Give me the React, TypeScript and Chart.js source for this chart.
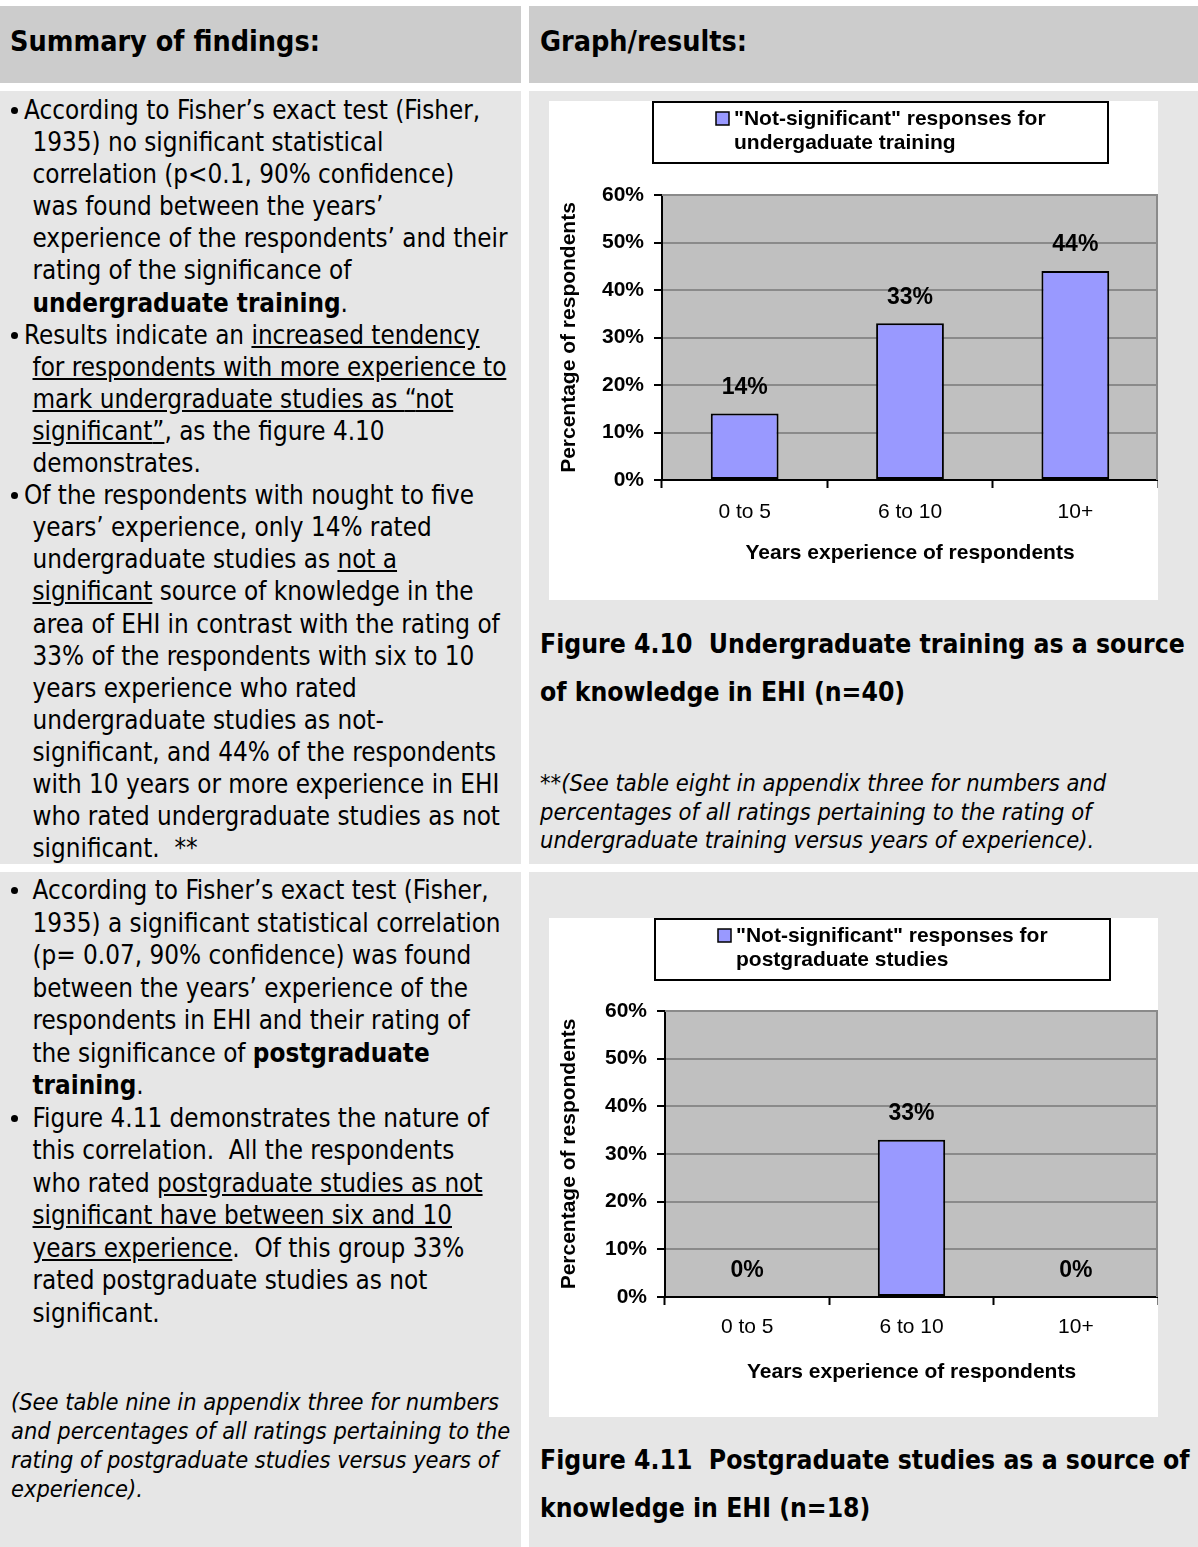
import React, { useEffect, useRef } from 'react';
import { Chart, registerables } from 'chart.js';

Chart.register(...registerables);

// ---------------- data ----------------
const CATEGORIES = ['0 to 5', '6 to 10', '10+'];
const UNDERGRAD_VALUES = [14, 33, 44];
const POSTGRAD_VALUES = [0, 33, 0];
const Y_TICKS = [0, 10, 20, 30, 40, 50, 60];
const UNDERGRAD_LEGEND = ['"Not-significant" responses for', 'undergaduate training'];
const POSTGRAD_LEGEND = ['"Not-significant" responses for', 'postgraduate studies'];
const X_TITLE = 'Years experience of respondents';
const Y_TITLE = 'Percentage of respondents';

const CHART_FONT = '"Liberation Sans", Arial, sans-serif';
const DOC_FONT = '"DejaVu Sans Condensed", "DejaVu Sans", sans-serif';

type PanelProps = {
  values: number[];
  legendLines: string[];
  plotLeft: number;
  plotTop: number;
  xTitlePad: number;
  xTickPad: number;
  legendX: number;
};

const CW = 609;
const CH = 499;

function BarPanel({ values, legendLines, plotLeft, plotTop, xTitlePad, xTickPad, legendX }: PanelProps) {
  const ref = useRef<HTMLCanvasElement | null>(null);
  useEffect(() => {
    const canvas = ref.current;
    if (!canvas) return;

    const plotBg = {
      id: 'plotBg',
      beforeDraw(chart: any) {
        const { ctx, chartArea: a } = chart;
        ctx.save();
        ctx.fillStyle = '#c0c0c0';
        ctx.fillRect(a.left, a.top, a.right - a.left, a.bottom - a.top);
        ctx.restore();
      },
      beforeDatasetsDraw(chart: any) {
        const { ctx, chartArea: a } = chart;
        ctx.save();
        ctx.strokeStyle = '#8a8a8a';
        ctx.lineWidth = 2;
        ctx.beginPath();
        ctx.moveTo(a.left, a.top);
        ctx.lineTo(a.right - 1, a.top);
        ctx.lineTo(a.right - 1, a.bottom);
        ctx.stroke();
        ctx.restore();
      },
    };

    const dataLabels = {
      id: 'dataLabels',
      afterDatasetsDraw(chart: any) {
        const { ctx } = chart;
        const meta = chart.getDatasetMeta(0);
        const ds = chart.data.datasets[0];
        ctx.save();
        ctx.fillStyle = '#000';
        ctx.font = `bold 23px ${CHART_FONT}`;
        ctx.textAlign = 'center';
        ctx.textBaseline = 'middle';
        meta.data.forEach((bar: any, i: number) => {
          ctx.fillText(`${ds.data[i]}%`, bar.x, bar.y - 26);
        });
        ctx.restore();
      },
    };

    const legendBox = {
      id: 'legendBox',
      afterDraw(chart: any) {
        const { ctx } = chart;
        const bx = legendX;
        const by = 1;
        const bw = 455;
        const bh = 61;
        ctx.save();
        ctx.fillStyle = '#ffffff';
        ctx.fillRect(bx, by, bw, bh);
        ctx.strokeStyle = '#000';
        ctx.lineWidth = 2;
        ctx.strokeRect(bx, by, bw, bh);
        // swatch
        ctx.fillStyle = '#9999ff';
        ctx.fillRect(bx + 63, by + 10, 13, 13);
        ctx.lineWidth = 1.5;
        ctx.strokeRect(bx + 63, by + 10, 13, 13);
        ctx.fillStyle = '#000';
        ctx.font = `bold 21px ${CHART_FONT}`;
        ctx.textAlign = 'left';
        ctx.textBaseline = 'middle';
        legendLines.forEach((line, i) => {
          ctx.fillText(line, bx + 81, by + 17 + i * 24);
        });
        ctx.restore();
      },
    };

    const chart = new Chart(canvas, {
      type: 'bar',
      data: {
        labels: CATEGORIES,
        datasets: [
          {
            label: legendLines.join(' '),
            data: values,
            backgroundColor: '#9999ff',
            borderColor: '#000000',
            borderWidth: 2,
            borderSkipped: false,
            barPercentage: 0.41,
            categoryPercentage: 1,
          },
        ],
      },
      options: {
        responsive: false,
        maintainAspectRatio: false,
        animation: false,
        layout: { padding: { top: plotTop, right: 0, bottom: 0, left: 0 } },
        plugins: {
          legend: { display: false },
          tooltip: { enabled: false },
        },
        scales: {
          x: {
            grid: {
              display: true,
              drawOnChartArea: false,
              drawTicks: true,
              tickLength: 8,
              tickColor: '#000',
              tickWidth: 2,
              offset: true,
            },
            border: { display: true, color: '#000', width: 2 },
            ticks: {
              color: '#000',
              font: { family: CHART_FONT, size: 21 },
              padding: xTickPad,
            },
            title: {
              display: true,
              text: X_TITLE,
              color: '#000',
              font: { family: CHART_FONT, size: 21, weight: 'bold' },
              padding: { top: 0, bottom: xTitlePad },
            },
            afterFit: (s: any) => {
              s.height = CH - 379;
            },
          },
          y: {
            min: 0,
            max: 60,
            afterBuildTicks: (s: any) => {
              s.ticks = Y_TICKS.map((v) => ({ value: v }));
            },
            grid: {
              color: '#8a8a8a',
              lineWidth: 2,
              tickColor: '#000',
              tickLength: 8,
              tickWidth: 2,
            },
            border: { display: true, color: '#000', width: 2 },
            ticks: {
              color: '#000',
              font: { family: CHART_FONT, size: 21, weight: 'bold' },
              padding: 10,
              callback: (v: any) => `${v}%`,
            },
            title: {
              display: true,
              text: Y_TITLE,
              color: '#000',
              font: { family: CHART_FONT, size: 21, weight: 'bold' },
              padding: { top: 8, bottom: 0 },
            },
            afterFit: (s: any) => {
              s.width = plotLeft;
            },
          },
        },
      },
      plugins: [plotBg, dataLabels, legendBox],
    } as any);
    return () => chart.destroy();
  }, [values, legendLines, plotLeft, plotTop, xTitlePad, xTickPad, legendX]);

  return <canvas ref={ref} width={CW} height={CH} style={{ display: 'block', width: CW, height: CH, background: '#fff' }} />;
}

// ---------------- document helpers ----------------
const U = ({ children }: any) => <span style={{ textDecoration: 'underline' }}>{children}</span>;
const B = ({ children }: any) => <span style={{ fontWeight: 'bold' }}>{children}</span>;

type Line = { bullet?: boolean; x?: number; c: any };

function Lines({ lines, top, left, lh, size, italic, bold, bulletX }: any) {
  return (
    <div style={{ position: 'absolute', top, left: 0, width: 660 }}>
      {lines.map((ln: Line, i: number) => (
        <div key={i} style={{ position: 'relative', height: lh, lineHeight: `${lh}px`, whiteSpace: 'pre' }}>
          {ln.bullet ? (
            <div
              style={{
                position: 'absolute',
                left: bulletX,
                top: lh / 2 - 3,
                width: 7,
                height: 7,
                borderRadius: '50%',
                background: '#000',
              }}
            />
          ) : null}
          <span
            style={{
              position: 'absolute',
              left: ln.x !== undefined ? ln.x : left,
              top: 0,
              fontSize: size,
              fontStyle: italic ? 'italic' : 'normal',
              fontWeight: bold ? 'bold' : 'normal',
            }}
          >
            {ln.c}
          </span>
        </div>
      ))}
    </div>
  );
}

const ROW1_LINES: Line[] = [
  { bullet: true, x: 24, c: 'According to Fisher\u2019s exact test (Fisher,' },
  { c: '1935) no significant statistical' },
  { c: 'correlation (p<0.1, 90% confidence)' },
  { c: 'was found between the years\u2019' },
  { c: 'experience of the respondents\u2019 and their' },
  { c: 'rating of the significance of' },
  { c: <><B>undergraduate training</B>.</> },
  { bullet: true, x: 24, c: <>Results indicate an <U>increased tendency</U></> },
  { c: <U>for respondents with more experience to</U> },
  { c: <U>mark undergraduate studies as {'\u201c'}not</U> },
  { c: <><U>significant{'\u201d'}</U>, as the figure 4.10</> },
  { c: 'demonstrates.' },
  { bullet: true, x: 24, c: 'Of the respondents with nought to five' },
  { c: 'years\u2019 experience, only 14% rated' },
  { c: <>undergraduate studies as <U>not a</U></> },
  { c: <><U>significant</U> source of knowledge in the</> },
  { c: 'area of EHI in contrast with the rating of' },
  { c: '33% of the respondents with six to 10' },
  { c: 'years experience who rated' },
  { c: 'undergraduate studies as not-' },
  { c: 'significant, and 44% of the respondents' },
  { c: 'with 10 years or more experience in EHI' },
  { c: 'who rated undergraduate studies as not' },
  { c: 'significant.  **' },
];

const ROW2_LINES: Line[] = [
  { bullet: true, c: 'According to Fisher\u2019s exact test (Fisher,' },
  { c: '1935) a significant statistical correlation' },
  { c: '(p= 0.07, 90% confidence) was found' },
  { c: 'between the years\u2019 experience of the' },
  { c: 'respondents in EHI and their rating of' },
  { c: <>the significance of <B>postgraduate</B></> },
  { c: <><B>training</B>.</> },
  { bullet: true, c: 'Figure 4.11 demonstrates the nature of' },
  { c: 'this correlation.  All the respondents' },
  { c: <>who rated <U>postgraduate studies as not</U></> },
  { c: <U>significant have between six and 10</U> },
  { c: <><U>years experience</U>.  Of this group 33%</> },
  { c: 'rated postgraduate studies as not' },
  { c: 'significant.' },
];

const LEFT_NOTE: Line[] = [
  { c: '(See table nine in appendix three for numbers' },
  { c: 'and percentages of all ratings pertaining to the' },
  { c: 'rating of postgraduate studies versus years of' },
  { c: 'experience).' },
];

const RIGHT_NOTE: Line[] = [
  { c: '**(See table eight in appendix three for numbers and' },
  { c: 'percentages of all ratings pertaining to the rating of' },
  { c: 'undergraduate training versus years of experience).' },
];

const CAPTION1: Line[] = [
  { c: 'Figure 4.10  Undergraduate training as a source' },
  { c: 'of knowledge in EHI (n=40)' },
];
const CAPTION2: Line[] = [
  { c: 'Figure 4.11  Postgraduate studies as a source of' },
  { c: 'knowledge in EHI (n=18)' },
];

const HEADER_BG = '#cccccc';
const CELL_BG = '#e6e6e6';

export default function App() {
  const cell = (left: number, top: number, width: number, height: number, bg: string) => ({
    position: 'absolute' as const,
    left,
    top,
    width,
    height,
    background: bg,
    overflow: 'hidden' as const,
  });
  return (
    <div
      style={{
        position: 'absolute',
        left: 0,
        top: 0,
        width: 1198,
        height: 1547,
        background: '#fff',
        overflow: 'hidden',
        fontFamily: DOC_FONT,
        color: '#000',
      }}
    >
      {/* header */}
      <div style={cell(0, 6, 521, 77, HEADER_BG)}>
        <div style={{ position: 'absolute', left: 10, top: 20, fontSize: 28.5, fontWeight: 'bold', lineHeight: '32px', whiteSpace: 'pre' }}>
          Summary of findings:
        </div>
      </div>
      <div style={cell(529, 6, 669, 77, HEADER_BG)}>
        <div style={{ position: 'absolute', left: 11, top: 20, fontSize: 28.5, fontWeight: 'bold', lineHeight: '32px', whiteSpace: 'pre' }}>
          Graph/results:
        </div>
      </div>

      {/* row 1 */}
      <div style={cell(0, 91, 521, 773, CELL_BG)}>
        <Lines lines={ROW1_LINES} top={3} left={32.5} lh={32.1} size={25.8} bulletX={11} />
      </div>
      <div style={cell(529, 91, 669, 773, CELL_BG)}>
        <div style={{ position: 'absolute', left: 20, top: 10 }}>
          <BarPanel
            values={UNDERGRAD_VALUES}
            legendLines={UNDERGRAD_LEGEND}
            plotLeft={113}
            plotTop={94}
            xTitlePad={34}
            xTickPad={12}
            legendX={104}
          />
        </div>
        <Lines lines={CAPTION1} top={529} left={11} lh={48} size={26.3} bold />
        <Lines lines={RIGHT_NOTE} top={678} left={11} lh={28.5} size={23.5} italic />
      </div>

      {/* row 2 */}
      <div style={cell(0, 872, 521, 675, CELL_BG)}>
        <Lines lines={ROW2_LINES} top={2} left={32.5} lh={32.5} size={25.8} bulletX={11} />
        <Lines lines={LEFT_NOTE} top={516} left={11} lh={29} size={23.4} italic />
      </div>
      <div style={cell(529, 872, 669, 675, CELL_BG)}>
        <div style={{ position: 'absolute', left: 20, top: 46 }}>
          <BarPanel
            values={POSTGRAD_VALUES}
            legendLines={POSTGRAD_LEGEND}
            plotLeft={116}
            plotTop={93}
            xTitlePad={32}
            xTickPad={10}
            legendX={106}
          />
        </div>
        <Lines lines={CAPTION2} top={564} left={11} lh={48} size={26.3} bold />
      </div>
    </div>
  );
}
